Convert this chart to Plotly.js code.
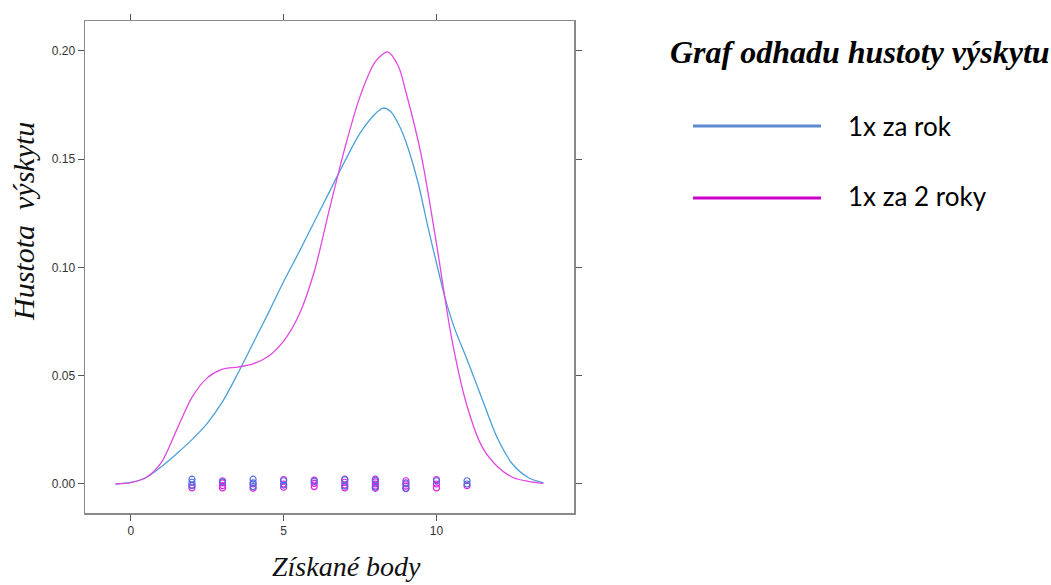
<!DOCTYPE html>
<html>
<head>
<meta charset="utf-8">
<script src="https://cdn.plot.ly/plotly-3.0.1.min.js"></script>
<style>html,body{margin:0;padding:0;background:#fff;}#chart{width:1051px;height:585px;}</style>
</head>
<body>
<div id="chart"></div>
<script>
// Density estimate curves
const seriesNames = ["1x za rok", "1x za 2 roky"];
const xTitle = "Získané body";
const yTitle = "Hustota  výskytu";
const chartTitle = "Graf odhadu hustoty výskytu";

const rokX = [-0.5, 0, 0.5, 1, 1.5, 2, 2.5, 3, 3.5, 4, 4.5, 5, 5.5, 6, 6.5, 7, 7.5, 8, 8.25, 8.5, 8.8, 9, 9.4, 9.7, 10, 10.3, 10.6, 11, 11.5, 12, 12.5, 13, 13.5];
const rokY = [0, 0.0007, 0.003, 0.008, 0.014, 0.0205, 0.028, 0.038, 0.051, 0.065, 0.079, 0.0935, 0.107, 0.121, 0.135, 0.149, 0.162, 0.171, 0.1736, 0.172, 0.165, 0.158, 0.139, 0.12, 0.102, 0.085, 0.0715, 0.0575, 0.039, 0.021, 0.009, 0.003, 0.0005];

const dvaX = [-0.5, 0, 0.5, 1, 1.5, 2, 2.5, 3, 3.5, 4, 4.5, 5, 5.5, 6, 6.5, 7, 7.5, 8, 8.4, 8.75, 9, 9.5, 10, 10.5, 11, 11.5, 12, 12.5, 13, 13.5];
const dvaY = [0, 0.0006, 0.003, 0.010, 0.025, 0.040, 0.049, 0.053, 0.054, 0.0555, 0.059, 0.066, 0.078, 0.098, 0.127, 0.155, 0.179, 0.195, 0.1995, 0.193, 0.181, 0.152, 0.111, 0.067, 0.036, 0.017, 0.008, 0.003, 0.0012, 0.0003];

// Rug of observed scores (jittered vertically around zero)
const rokPts = [2, 2, 2, 3, 4, 4, 4, 5, 5, 6, 7, 7, 8, 8, 9, 9, 10, 11, 11];
const rokJit = [0.0022, 0.0008, -0.0008, 0.001, 0.0022, 0.0005, -0.0012, 0.0015, -0.0005, 0.0012, 0.002, -0.001, 0.0018, -0.0015, 0.0005, -0.002, 0.0015, 0.0015, 0.0];
const dvaPts = [2, 2, 3, 3, 3, 3, 4, 4, 5, 5, 5, 6, 6, 6, 7, 7, 7, 7, 8, 8, 8, 8, 8, 9, 9, 9, 9, 10, 10, 10, 11];
const dvaJit = [-0.0005, -0.0018, 0.0015, 0.0005, -0.0008, -0.0018, 0.0, -0.002, 0.002, 0.0, -0.0015, 0.0018, 0.0003, -0.0012, 0.0022, 0.0008, -0.0005, -0.0018, 0.0022, 0.001, 0.0, -0.001, -0.002, 0.0015, 0.0, -0.001, -0.0022, 0.002, 0.0, -0.0018, -0.0008];

// Tick labels
const xTicks = [0, 5, 10];
const yTicks = [0, 0.05, 0.10, 0.15, 0.20];
const yTickText = ["0.00", "0.05", "0.10", "0.15", "0.20"];

const lineBlue = "#4ba0d8", linePink = "#e048e0";
const ptBlue = "#4a6fe0", ptPink = "#e020e0";
const legBlue = "#5a8ad0", legPink = "#cc00cc";
const serif = "'Liberation Serif', 'Times New Roman', Times, serif";

const traces = [
  {x: rokX, y: rokY, type: "scatter", mode: "lines", name: seriesNames[0], line: {color: lineBlue, width: 1.3, shape: "spline", smoothing: 0.8}, showlegend: false},
  {x: dvaX, y: dvaY, type: "scatter", mode: "lines", name: seriesNames[1], line: {color: linePink, width: 1.3, shape: "spline", smoothing: 0.8}, showlegend: false},
  {x: dvaPts, y: dvaJit, type: "scatter", mode: "markers", name: seriesNames[1], marker: {symbol: "circle-open", size: 6, color: ptPink, line: {width: 1.2}}, showlegend: false},
  {x: rokPts, y: rokJit, type: "scatter", mode: "markers", name: seriesNames[0], marker: {symbol: "circle-open", size: 6, color: ptBlue, line: {width: 1.2}}, showlegend: false}
];

const axisCommon = {
  showline: true, linecolor: "#8a8a8a", linewidth: 1.5, mirror: "ticks",
  ticks: "outside", ticklen: 6, tickcolor: "#555", tickwidth: 1,
  showgrid: false, zeroline: false,
  tickfont: {family: "'Liberation Sans', Arial, sans-serif", size: 12, color: "#333"}
};

const px2x = p => (p - 85) / 489;   // paper x from pixel
const px2y = p => (513 - p) / 492;  // paper y from pixel

const layout = {
  width: 1051, height: 585,
  margin: {l: 85, r: 477, t: 21, b: 72},
  paper_bgcolor: "#fff", plot_bgcolor: "#fff",
  title: {
    text: "<b><i>" + chartTitle + "</i></b>",
    font: {family: serif, size: 32, color: "#000"},
    xref: "container", yref: "container", x: 670/1051, xanchor: "left", y: 1 - 52/585, yanchor: "middle"
  },
  xaxis: Object.assign({}, axisCommon, {range: [-1.5, 14.5], tickvals: xTicks}),
  yaxis: Object.assign({}, axisCommon, {range: [-0.0134, 0.2138], tickvals: yTicks, ticktext: yTickText}),
  shapes: [
    {type: "line", xref: "paper", yref: "paper", x0: px2x(693), x1: px2x(821), y0: px2y(126), y1: px2y(126), line: {color: legBlue, width: 3}},
    {type: "line", xref: "paper", yref: "paper", x0: px2x(693), x1: px2x(821), y0: px2y(198), y1: px2y(198), line: {color: legPink, width: 3}}
  ],
  annotations: [
    {text: seriesNames[0], xref: "paper", yref: "paper", x: px2x(846), y: px2y(126), xanchor: "left", yanchor: "middle", showarrow: false, font: {family: "Lato, 'Noto Sans', sans-serif", size: 26, color: "#000"}},
    {text: seriesNames[1], xref: "paper", yref: "paper", x: px2x(846), y: px2y(196), xanchor: "left", yanchor: "middle", showarrow: false, font: {family: "Lato, 'Noto Sans', sans-serif", size: 26, color: "#000"}},
    {text: "<i>" + xTitle + "</i>", xref: "paper", yref: "paper", x: px2x(346), y: px2y(566), xanchor: "center", yanchor: "middle", showarrow: false, font: {family: serif, size: 28, color: "#111"}},
    {text: "<i>" + yTitle + "</i>", xref: "paper", yref: "paper", x: px2x(23), y: px2y(222), xanchor: "center", yanchor: "middle", textangle: -90, showarrow: false, font: {family: serif, size: 30, color: "#111"}}
  ]
};

Plotly.newPlot("chart", traces, layout, {displayModeBar: false, staticPlot: true});
</script>
</body>
</html>
